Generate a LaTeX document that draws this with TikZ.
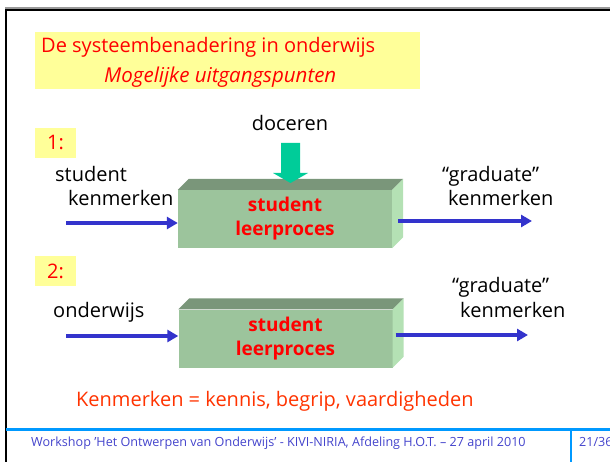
\documentclass[tikz,border=0pt]{standalone}
\usepackage{fontspec}
\setmainfont{Open Sans}
\usetikzlibrary{arrows.meta}
\definecolor{titleyellow}{RGB}{255,255,153}
\definecolor{slidered}{RGB}{255,0,0}
\definecolor{kenred}{RGB}{255,51,0}
\definecolor{flowblue}{RGB}{51,51,204}
\definecolor{docgreen}{RGB}{0,204,153}
\definecolor{boxfront}{RGB}{156,196,156}
\definecolor{boxtop}{RGB}{122,150,122}
\definecolor{boxside}{RGB}{180,225,180}
\definecolor{lineblue}{RGB}{0,153,255}
\definecolor{footblue}{RGB}{68,68,204}

\begin{document}
\begin{tikzpicture}[x=1pt,y=-1pt,>={Triangle[length=11pt,width=12pt]},font=\fontsize{20}{24}\selectfont]
 \tikzstyle{every node}=[inner sep=0pt]
 \tikzstyle{txt}=[anchor=base west]
 \tikzstyle{numbox}=[fill=titleyellow,text=slidered,minimum width=41pt,minimum height=30pt]
 \tikzstyle{procbox}=[fill=boxfront,text=slidered,font=\fontsize{19}{24}\selectfont\bfseries,align=center,minimum width=214pt,minimum height=58pt]
 \tikzstyle{flow}=[->,line width=3.5pt,draw=flowblue]
 \tikzstyle{foot}=[anchor=base west,text=footblue,font=\fontsize{12.6}{15}\selectfont]

   \useasboundingbox (0,0) rectangle (610,462);

   % slide frame
   \draw[line width=2pt,black!40] (5,8) -- (610,8);
   \draw[line width=2pt] (6,10) -- (610,10);
   \draw[line width=2.2pt] (6,9) -- (6,462);
   \draw[line width=3pt,lineblue] (6,429.5) -- (610,429.5);
   \draw[line width=2pt,lineblue] (571,429.5) -- (571,462);

   % title
   \fill[titleyellow] (35,32) rectangle (420,89);
   \node[txt,text=slidered] (title) at (41,53) {De systeembenadering in onderwijs};
   \node[txt,text=slidered,font=\fontsize{20.5}{24}\selectfont\itshape] (subtitle) at (104,83) {Mogelijke uitgangspunten};

   % 1:
   \node[numbox] (nr1) at (55.5,143) {1:};
   \node[anchor=base] (doceren) at (290,131) {doceren};
   \node[procbox] (proc1) at (285,219) {student\\leerproces};
   \fill[boxtop] (proc1.north west) -- ++(11,-11) -- ([shift={(11,-11)}]proc1.north east) -- (proc1.north east) -- cycle;
   \fill[boxside] (proc1.north east) -- ++(11,-11) -- ([shift={(11,-11)}]proc1.south east) -- (proc1.south east) -- cycle;
   \coordinate (doctip) at (290.5,183);
   \fill[docgreen] (doctip) -- ++(-17.5,-10) -- ++(8,0) -- ++(0,-30) -- ++(19,0) -- ++(0,30) -- ++(8,0) -- cycle;

   \node[txt] (stud1) at (55,182) {student};
   \node[txt] (kenm1) at (68,206) {kenmerken};
   \node[txt] (grad1) at (442,182) {“graduate”};
   \node[txt] (gkenm1) at (448,206) {kenmerken};
   \coordinate (in1) at (66,223);
   \coordinate (out1) at (532,221);
   \draw[flow] (in1) -- (in1 -| proc1.west);
   \draw[flow,shorten <=6pt] (out1 -| proc1.east) -- (out1);

   % 2:
   \node[numbox] (nr2) at (55.5,271) {2:};
   \node[procbox] (proc2) at (285.5,338.5) {student\\leerproces};
   \fill[boxtop] (proc2.north west) -- ++(11,-11) -- ([shift={(11,-11)}]proc2.north east) -- (proc2.north east) -- cycle;
   \fill[boxside] (proc2.north east) -- ++(11,-11) -- ([shift={(11,-11)}]proc2.south east) -- (proc2.south east) -- cycle;

   \node[txt] (onderw) at (53,317) {onderwijs};
   \node[txt] (grad2) at (452,292) {“graduate”};
   \node[txt] (gkenm2) at (460,317) {kenmerken};
   \coordinate (in2) at (66,336);
   \coordinate (out2) at (528,335);
   \draw[flow] (in2) -- (in2 -| proc2.west);
   \draw[flow,shorten <=3pt] (out2 -| proc2.east) -- (out2);

   \node[txt,text=kenred] (defin) at (76,406) {Kenmerken = kennis, begrip, vaardigheden};

   % footer
   \node[foot] (footer) at (31,446) {Workshop 'Het Ontwerpen van Onderwijs' - KIVI-NIRIA, Afdeling H.O.T. – 27 april 2010};
   \node[foot] (pagenr) at (579,446) {21/36};

\end{tikzpicture}
\end{document}
